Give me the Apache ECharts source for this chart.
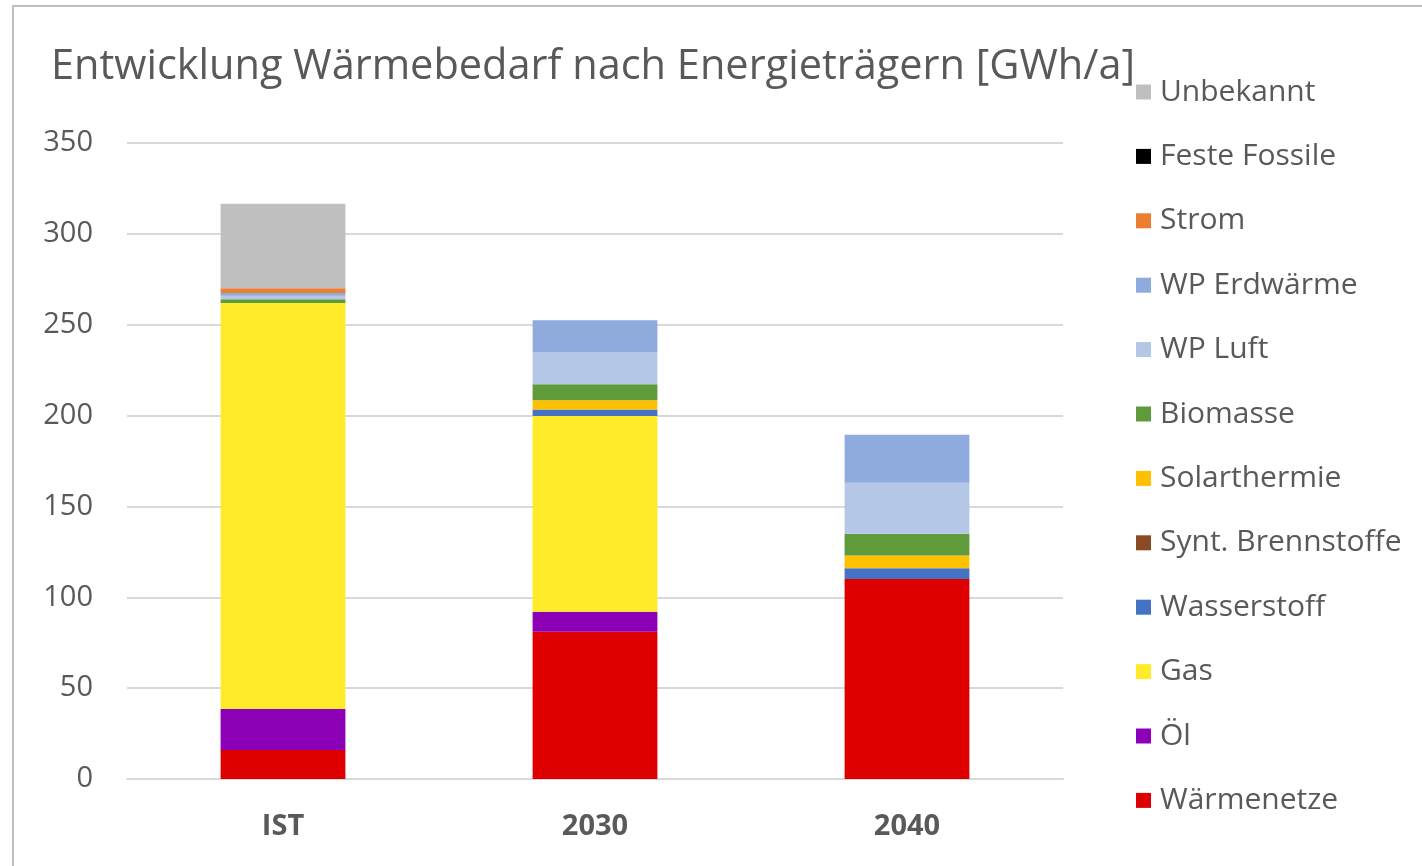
<!DOCTYPE html>
<html>
<head>
<meta charset="utf-8">
<script src="https://cdn.jsdelivr.net/npm/echarts@6/dist/echarts.min.js"></script>
<style>
html,body{margin:0;padding:0;background:#fff;}
#chart{width:1422px;height:866px;}
</style>
</head>
<body>
<div id="chart"></div>
<script>
const categories = ['IST', '2030', '2040'];
const seriesNames = ['Wärmenetze', 'Öl', 'Gas', 'Wasserstoff', 'Synt. Brennstoffe', 'Solarthermie', 'Biomasse', 'WP Luft', 'WP Erdwärme', 'Strom', 'Feste Fossile', 'Unbekannt'];
const waermenetze = [16, 81, 110];
const oel = [22.5, 11, 0];
const gas = [223.5, 107.7, 0];
const wasserstoff = [0, 3.7, 6];
const syntBrennstoffe = [0, 0, 0];
const solarthermie = [0, 5, 7];
const biomasse = [2, 8.8, 12];
const wpLuft = [2, 17.8, 28];
const wpErdwaerme = [1.5, 17.4, 26.5];
const strom = [2.5, 0, 0];
const festeFossile = [0, 0, 0];
const unbekannt = [46.5, 0, 0];
const yTicks = [0, 50, 100, 150, 200, 250, 300, 350];

const seriesData = [waermenetze, oel, gas, wasserstoff, syntBrennstoffe, solarthermie, biomasse, wpLuft, wpErdwaerme, strom, festeFossile, unbekannt];
const colors = ['#DE0000', '#8C00B8', '#FFEB2A', '#4472C4', '#8B4A26', '#FFC000', '#5F9A3B', '#B4C7E7', '#8FAADC', '#ED7D31', '#000000', '#BFBFBF'];

const chart = echarts.init(document.getElementById('chart'));
const font = '"Open Sans", "Liberation Sans", sans-serif';
chart.setOption({
  animation: false,
  color: colors,
  textStyle: { fontFamily: font },
  graphic: [{
    type: 'rect',
    shape: { x: 13, y: 6, width: 1440, height: 900 },
    style: { fill: 'none', stroke: '#BFBFBF', lineWidth: 2 },
    silent: true
  }],
  title: {
    text: 'Entwicklung Wärmebedarf nach Energieträgern [GWh/a]',
    left: 46, top: 41,
    textStyle: { fontFamily: font, fontSize: 41.5, fontWeight: 'normal', color: '#595959' }
  },
  legend: {
    orient: 'vertical',
    left: 1131, top: 71,
    data: seriesNames.slice().reverse(),
    icon: 'rect',
    itemWidth: 15, itemHeight: 15,
    itemGap: 32.4,
    textStyle: { fontFamily: font, fontSize: 30, color: '#595959', lineHeight: 32, padding: [0, 0, 0, 4] }
  },
  grid: { left: 127, right: 359, top: 143, bottom: 87, containLabel: false },
  xAxis: {
    type: 'category',
    data: categories,
    axisLine: { lineStyle: { color: '#D9D9D9', width: 2 } },
    axisTick: { show: false },
    axisLabel: { margin: 33, fontFamily: font, fontSize: 29, fontWeight: 'bold', color: '#595959' }
  },
  yAxis: {
    type: 'value',
    min: yTicks[0], max: yTicks[yTicks.length - 1], interval: 50,
    axisLine: { show: false },
    axisTick: { show: false },
    splitLine: { lineStyle: { color: '#D9D9D9', width: 2 } },
    axisLabel: { margin: 34, fontFamily: font, fontSize: 29, color: '#595959' }
  },
  series: seriesNames.map((name, i) => ({
    name: name,
    type: 'bar',
    stack: 'total',
    barWidth: '40%',
    data: seriesData[i],
    itemStyle: { color: colors[i] }
  }))
});
</script>
</body>
</html>
